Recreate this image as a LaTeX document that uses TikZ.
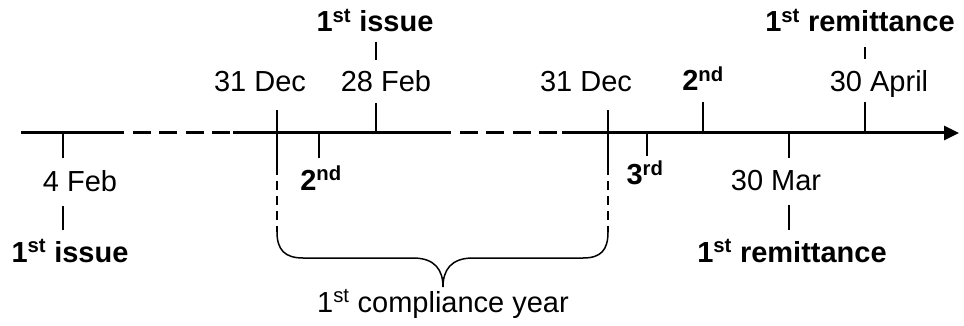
\documentclass[tikz,border=0pt]{standalone}
\usepackage{fontspec}
\setmainfont{Liberation Sans}
\usetikzlibrary{arrows.meta}
\begin{document}
\begin{tikzpicture}[x=1pt,y=-1pt,
  lbl/.style={anchor=base,inner sep=0pt,font=\fontsize{29}{34}\selectfont},
  blbl/.style={lbl,font=\fontsize{29}{34}\selectfont\bfseries},
  axis/.style={line width=3pt},
  axisdash/.style={line width=3pt,dash pattern=on 18pt off 8.5pt},
  tick/.style={line width=1.3pt},
  vdash/.style={line width=1.3pt,dash pattern=on 9pt off 6pt},
  brace/.style={line width=1.5pt}]
\useasboundingbox (0,0) rectangle (964,326);
% axis coordinates
\coordinate (a0) at (21,133);
\coordinate (a1) at (106,133);
\coordinate (a2) at (233,133);
\coordinate (a3) at (433,133);
\coordinate (a4) at (562,133);
\coordinate (a5) at (959,133);
\draw[axis] (a0) -- (a1);
\draw[axisdash] (a1) -- (a2);
\draw[axis] (a2) -- (a3);
\draw[axisdash] (a3) -- (a4);
\draw[axis,-{Triangle[length=15pt,width=14pt]}] (a4) -- (a5);
% labels
\node[lbl] (dec1) at (260,92) {31 Dec};
\node[lbl] (feb28) at (386,92) {28 Feb};
\node[blbl] (iss1) at (375,32) {1\textsuperscript{st} issue};
\node[lbl] (dec2) at (586,92) {31 Dec};
\node[blbl] (snd2) at (703,91) {2\textsuperscript{nd}};
\node[lbl] (apr30) at (879,92) {30 April};
\node[blbl] (rem1) at (860,32) {1\textsuperscript{st} remittance};
\node[lbl] (feb4) at (80,191) {4 Feb};
\node[blbl] (snd1) at (321,190) {2\textsuperscript{nd}};
\node[blbl] (trd) at (645,185) {3\textsuperscript{rd}};
\node[lbl] (mar30) at (776,190) {30 Mar};
\node[blbl] (iss0) at (70,262) {1\textsuperscript{st} issue};
\node[blbl] (rem0) at (792,262) {1\textsuperscript{st} remittance};
\node[lbl] (cy) at (443,312) {1\textsuperscript{st} compliance year};
% ticks
\coordinate (t1a) at (63,133); \coordinate (t1b) at (63,158);
\coordinate (t1c) at (63,206); \coordinate (t1d) at (63,230);
\draw[tick] (t1a) -- (t1b);
\draw[tick] (t1c) -- (t1d);
\coordinate (t2a) at (319,133); \coordinate (t2b) at (319,158);
\draw[tick] (t2a) -- (t2b);
\coordinate (t3a) at (376,103); \coordinate (t3b) at (376,133);
\coordinate (t3c) at (376,42); \coordinate (t3d) at (376,60);
\draw[tick] (t3a) -- (t3b);
\draw[tick] (t3c) -- (t3d);
\coordinate (t4a) at (703,102); \coordinate (t4b) at (703,133);
\draw[tick] (t4a) -- (t4b);
\coordinate (t5a) at (865,102); \coordinate (t5b) at (865,133);
\coordinate (t5c) at (865,47); \coordinate (t5d) at (865,59);
\draw[tick] (t5a) -- (t5b);
\draw[tick] (t5c) -- (t5d);
\coordinate (t6a) at (647,133); \coordinate (t6b) at (647,156);
\draw[tick] (t6a) -- (t6b);
\coordinate (t7a) at (789,133); \coordinate (t7b) at (789,158);
\coordinate (t7c) at (789,205); \coordinate (t7d) at (789,230);
\draw[tick] (t7a) -- (t7b);
\draw[tick] (t7c) -- (t7d);
% 31 Dec verticals and brace
\coordinate (l0) at (277,110); \coordinate (l1) at (277,166); \coordinate (l2) at (277,232);
\coordinate (r0) at (608,110); \coordinate (r1) at (608,166); \coordinate (r2) at (608,232);
\coordinate (tip) at (443,287);
\draw[tick] (l0) -- (l1);
\draw[vdash] (l1) -- (l2);
\draw[tick] (r0) -- (r1);
\draw[vdash] (r1) -- (r2);
\draw[brace] (l2) .. controls (277,250) and (285,258) .. (303,258)
  -- (413,258) .. controls (435,258) and (443,270) .. (tip)
  .. controls (443,270) and (451,258) .. (473,258)
  -- (583,258) .. controls (601,258) and (608,250) .. (r2);
\end{tikzpicture}
\end{document}
